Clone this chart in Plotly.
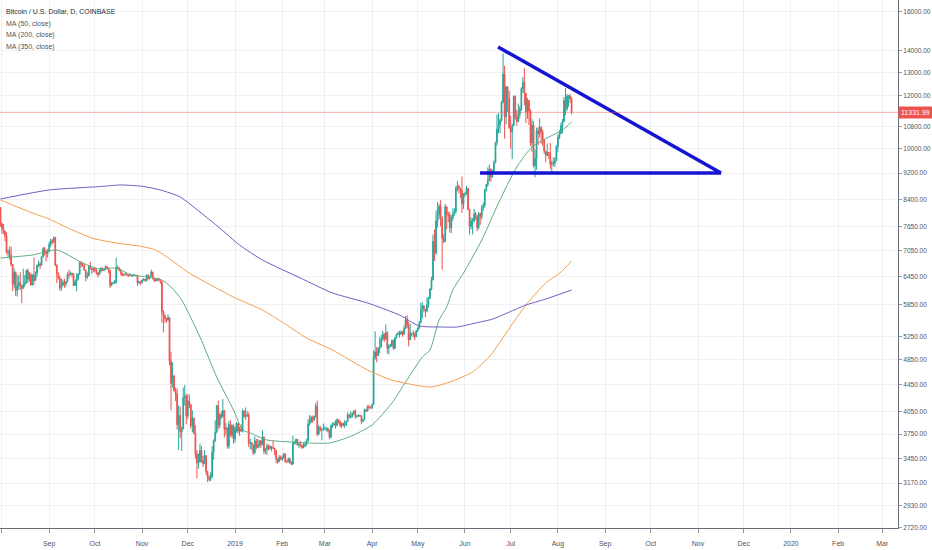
import numpy as np
import pandas as pd
import plotly.graph_objects as go

# Daily BTC/USD candles (Coinbase), 2018-07-29 .. 2019-08-10.
# open of each day = previous close
start_day = "2018-07-29"
first_open = 8220

close = [
    8210, 8170, 7730,
    # Aug 2018
    7605, 7535, 7415, 7010, 7030, 6935, 6720, 6280, 6540, 6145,
    6235, 6315, 6255, 6190, 6270, 6315, 6580, 6385, 6490, 6260,
    6475, 6360, 6525, 6690, 6735, 6700, 6905, 7090, 7030, 6980, 7025,
    # Sep
    7195, 7285, 7265, 7365, 6700, 6515, 6410, 6200, 6250, 6320,
    6285, 6330, 6490, 6485, 6520, 6500, 6250, 6335, 6385, 6495,
    6760, 6715, 6705, 6590, 6435, 6465, 6680, 6640, 6600, 6625,
    # Oct
    6590, 6530, 6485, 6565, 6635, 6585, 6610, 6665, 6640, 6590,
    6250, 6295, 6305, 6320, 6650, 6640, 6590, 6520, 6475, 6490,
    6495, 6475, 6465, 6475, 6460, 6470, 6475, 6470, 6305, 6325, 6310,
    # Nov
    6370, 6390, 6355, 6480, 6405, 6455, 6545, 6405, 6350, 6380,
    6400, 6370, 6330, 5710, 5640, 5580, 5545, 5600, 4820, 4465,
    4580, 4355, 4310, 3875, 4000, 3780, 3820, 4250, 4275, 3990,
    # Dec
    4200, 4150, 3860, 3960, 3760, 3500, 3395, 3410, 3545, 3425,
    3390, 3485, 3300, 3230, 3210, 3235, 3525, 3670, 3775, 4135,
    3870, 4015, 3980, 4070, 3815, 3830, 3600, 3880, 3735, 3860, 3690,
    # Jan 2019
    3825, 3890, 3790, 3820, 3790, 4060, 3985, 3995, 4010, 3635,
    3640, 3610, 3515, 3665, 3580, 3615, 3665, 3615, 3715, 3535,
    3565, 3600, 3570, 3590, 3575, 3575, 3545, 3445, 3410, 3465, 3440,
    # Feb
    3460, 3505, 3415, 3410, 3445, 3400, 3385, 3640, 3640, 3685,
    3615, 3620, 3605, 3580, 3595, 3620, 3665, 3885, 3910, 3975,
    3935, 3985, 4130, 3750, 3840, 3810, 3815, 3815,
    # Mar
    3825, 3825, 3795, 3715, 3865, 3875, 3885, 3860, 3940, 3920,
    3865, 3890, 3865, 3870, 3915, 4010, 3980, 3985, 4025, 4060,
    3985, 3990, 4000, 3995, 3915, 3945, 4080, 4060, 4125, 4115, 4105,
    # Apr
    4150, 4880, 4975, 4910, 5030, 5060, 5200, 5295, 5195, 5320,
    5040, 5080, 5080, 5175, 5035, 5225, 5280, 5300, 5290, 5325,
    5290, 5390, 5555, 5445, 5185, 5300, 5290, 5295, 5240, 5350,
    # May
    5400, 5505, 5760, 5830, 5760, 5720, 5845, 5985, 6175, 6370,
    7270, 6990, 7810, 7975, 8200, 7875, 7350, 7265, 8195, 7985,
    7960, 7620, 7880, 7995, 8060, 8740, 8800, 8730, 8660, 8270, 8550,
    # Jun
    8555, 8730, 8120, 7660, 7800, 7800, 8000, 7930, 7630, 8000,
    7920, 8170, 8235, 8690, 8840, 8980, 9330, 9080, 9270, 9525,
    10210, 10700, 10855, 11020, 11740, 12930, 11160, 12375, 11880, 10760,
    # Jul
    10590, 10820, 11980, 11150, 10980, 11255, 11470, 12290, 12570, 12100,
    11350, 11800, 11380, 10200, 10850, 9430, 9680, 10640, 10530, 10760,
    10590, 10330, 9920, 9770, 9880, 9850, 9480, 9530, 9510, 9595, 10085,
    # Aug
    10400, 10525, 10820, 10980, 11805, 11470, 11980, 11990, 11860, 11331.99,
]

high = [
    8290, 8270, 8180,
    7760, 7720, 7540, 7500, 7080, 7150, 7150, 6730, 6630, 6560,
    6490, 6470, 6540, 6265, 6620, 6480, 6600, 6630, 6550, 6530,
    6500, 6880, 6560, 6720, 6810, 6770, 6920, 7130, 7140, 7060, 7090,
    7260, 7340, 7330, 7400, 7390, 6720, 6540, 6470, 6400, 6380,
    6400, 6350, 6540, 6600, 6560, 6530, 6520, 6380, 6520, 6520,
    6790, 6800, 6760, 6720, 6590, 6540, 6700, 6780, 6640, 6640,
    6660, 6620, 6540, 6610, 6660, 6640, 6630, 6700, 6680, 6640,
    6590, 6330, 6340, 6370, 6880, 6700, 6650, 6610, 6530, 6510,
    6540, 6510, 6490, 6520, 6490, 6500, 6490, 6490, 6480, 6350, 6350,
    6380, 6410, 6395, 6500, 6485, 6460, 6600, 6550, 6420, 6400,
    6410, 6420, 6370, 6340, 5740, 5650, 5590, 5660, 5610, 4980,
    4800, 4600, 4400, 4390, 4140, 4125, 3850, 4400, 4440, 4310,
    4300, 4300, 4160, 4070, 3970, 3870, 3550, 3510, 3630, 3600,
    3480, 3550, 3490, 3305, 3260, 3290, 3600, 3685, 3930, 4145,
    4210, 4025, 4060, 4230, 4070, 3900, 3840, 3920, 3935, 3880, 3880,
    3850, 3910, 3890, 3850, 3880, 4090, 4070, 4110, 4060, 4040,
    3690, 3650, 3620, 3720, 3690, 3690, 3675, 3670, 3800, 3720,
    3570, 3630, 3620, 3615, 3600, 3670, 3580, 3545, 3445, 3490, 3485,
    3485, 3515, 3505, 3430, 3460, 3460, 3420, 3730, 3660, 3690,
    3690, 3650, 3660, 3620, 3640, 3660, 3690, 3950, 4005, 3995,
    4000, 3995, 4175, 4210, 3870, 3855, 3830, 3890,
    3860, 3840, 3840, 3810, 3875, 3905, 3910, 3935, 3960, 3940,
    3930, 3900, 3905, 3935, 3925, 4045, 4015, 4055, 4040, 4075,
    4085, 4005, 4015, 4010, 4000, 3955, 4095, 4085, 4140, 4150, 4120,
    4165, 5000, 5340, 5060, 5060, 5235, 5270, 5350, 5295, 5470,
    5340, 5110, 5120, 5190, 5190, 5235, 5300, 5340, 5350, 5360,
    5340, 5450, 5630, 5640, 5520, 5480, 5320, 5360, 5325, 5360,
    5420, 5530, 5890, 5900, 5830, 5770, 6000, 6010, 6190, 6440,
    7450, 7580, 8090, 8330, 8280, 8380, 7930, 7450, 8270, 8200,
    8050, 8050, 7960, 8150, 8150, 8790, 8950, 8820, 8730, 9090, 8590,
    8625, 8800, 8740, 8125, 7900, 7880, 8130, 8045, 7960, 8050,
    8030, 8240, 8310, 8710, 8870, 9380, 9470, 9340, 9310, 9610,
    10250, 11250, 11300, 11100, 11790, 13880, 13300, 12400, 12380, 12200,
    11200, 10900, 12000, 12000, 11420, 11680, 11590, 12350, 12800, 13200,
    12100, 11900, 11830, 11450, 11070, 11000, 9975, 10750, 10770, 11100,
    10800, 10680, 10330, 9930, 10180, 9880, 10200, 9600, 9700, 9720, 10120,
    10500, 10670, 10930, 11080, 11950, 12320, 12070, 12030, 12080, 11950,
]

low = [
    8110, 7860, 7650,
    7460, 7470, 7280, 6960, 6880, 6830, 6680, 6130, 6200, 6030,
    6020, 6160, 6150, 5880, 6180, 6220, 6290, 6300, 6330, 6250,
    6255, 6260, 6350, 6440, 6660, 6610, 6680, 6880, 6930, 6790, 6880,
    7010, 7130, 7200, 7230, 6680, 6300, 6380, 6140, 6140, 6240,
    6200, 6220, 6320, 6400, 6470, 6420, 6240, 6240, 6130, 6360,
    6490, 6650, 6660, 6580, 6340, 6390, 6450, 6600, 6500, 6540,
    6540, 6490, 6420, 6480, 6530, 6570, 6560, 6590, 6610, 6520,
    6200, 6240, 6280, 6290, 6290, 6600, 6560, 6470, 6450, 6460,
    6480, 6450, 6440, 6460, 6440, 6440, 6455, 6450, 6240, 6290, 6260,
    6300, 6355, 6330, 6340, 6380, 6380, 6450, 6380, 6330, 6345,
    6340, 6350, 6290, 5500, 5320, 5500, 5500, 5545, 4750, 4070,
    4400, 4340, 4200, 3810, 3550, 3700, 3540, 3810, 4140, 3880,
    3950, 4100, 3820, 3775, 3750, 3450, 3220, 3330, 3400, 3400,
    3350, 3380, 3260, 3180, 3190, 3190, 3230, 3435, 3650, 3760,
    3810, 3830, 3950, 3975, 3710, 3740, 3570, 3565, 3720, 3700, 3630,
    3645, 3770, 3760, 3730, 3780, 3770, 3970, 3940, 3980, 3590,
    3560, 3550, 3490, 3510, 3560, 3585, 3585, 3575, 3610, 3500,
    3505, 3490, 3550, 3555, 3535, 3565, 3490, 3395, 3385, 3410, 3430,
    3420, 3445, 3400, 3395, 3405, 3385, 3370, 3375, 3620, 3615,
    3605, 3575, 3590, 3565, 3575, 3595, 3605, 3655, 3860, 3895,
    3900, 3925, 3965, 3720, 3745, 3785, 3670, 3790,
    3805, 3785, 3770, 3685, 3700, 3830, 3860, 3825, 3860, 3890,
    3840, 3830, 3850, 3830, 3860, 3915, 3960, 3955, 3970, 4005,
    3955, 3970, 3980, 3975, 3880, 3910, 3935, 4045, 4055, 4080, 4095,
    4085, 4145, 4840, 4800, 4910, 4955, 5060, 5170, 5150, 5190,
    4950, 4930, 5060, 5060, 5010, 5030, 5210, 5270, 5225, 5280,
    5240, 5270, 5385, 5400, 5070, 5180, 5250, 5230, 5180, 5235,
    5330, 5380, 5490, 5580, 5700, 5600, 5720, 5790, 5975, 6150,
    6365, 6800, 6940, 7630, 7850, 7660, 6600, 7230, 7270, 7580,
    7770, 7500, 7480, 7800, 7940, 8000, 8640, 8580, 8440, 8020, 8130,
    8470, 8540, 8090, 7450, 7580, 7450, 7765, 7830, 7530, 7580,
    7700, 7840, 8080, 8165, 8630, 8780, 8950, 8920, 9050, 9240,
    9520, 10100, 10550, 10550, 10980, 11680, 10350, 10870, 11350, 10710,
    10000, 9650, 10820, 11050, 10830, 10980, 11100, 11380, 12120, 11600,
    10920, 11080, 10850, 10100, 9900, 9380, 9070, 9300, 10120, 10400,
    10170, 10100, 9830, 9550, 9750, 9650, 9330, 9200, 9410, 9400, 9580,
    9880, 10340, 10520, 10550, 11000, 11220, 11380, 11550, 11700, 11250,
]

# moving averages
ma50_dates = ["2018-07-31", "2018-08-21", "2018-09-06", "2018-09-23", "2018-10-04",
              "2018-10-15", "2018-10-25", "2018-11-05", "2018-11-14", "2018-11-20",
              "2018-11-27", "2018-12-09", "2018-12-20", "2018-12-31", "2019-01-06",
              "2019-01-11", "2019-01-22", "2019-02-06", "2019-02-19", "2019-03-04",
              "2019-03-17", "2019-04-01", "2019-04-14", "2019-04-23", "2019-05-04",
              "2019-05-09", "2019-05-15", "2019-05-20", "2019-05-24", "2019-05-31",
              "2019-06-12", "2019-06-23", "2019-07-05", "2019-07-15", "2019-07-26",
              "2019-08-04", "2019-08-10"]
ma50_vals = [6870, 6941, 7062, 6753, 6614, 6637, 6480, 6436, 6370, 6219,
             5947, 5236, 4563, 4075, 3804, 3765, 3676, 3651, 3638, 3638,
             3714, 3870, 4173, 4486, 4889, 5007, 5551, 5804, 6155, 6524,
             7306, 8299, 9393, 10060, 10410, 10667, 10963]

ma200_dates = ["2018-07-31", "2018-08-21", "2018-09-01", "2018-09-12", "2018-09-29",
               "2018-10-15", "2018-10-30", "2018-11-10", "2018-11-20", "2018-12-02",
               "2018-12-31", "2019-01-19", "2019-02-01", "2019-02-17", "2019-03-06",
               "2019-03-29", "2019-04-14", "2019-05-09", "2019-05-22", "2019-06-06",
               "2019-06-18", "2019-06-28", "2019-07-11", "2019-07-24", "2019-08-03",
               "2019-08-10"]
ma200_vals = [8385, 8018, 7854, 7641, 7358, 7232, 7158, 7062, 6823, 6524,
              6007, 5745, 5513, 5218, 5007, 4675, 4516, 4410, 4486, 4643,
              4923, 5309, 5845, 6304, 6546, 6800]

ma350_dates = ["2018-07-31", "2018-09-01", "2018-10-04", "2018-10-18", "2018-11-01",
               "2018-11-13", "2018-11-26", "2018-12-09", "2018-12-22", "2019-01-04",
               "2019-01-19", "2019-02-13", "2019-03-06", "2019-03-29", "2019-04-19",
               "2019-05-02", "2019-05-16", "2019-05-27", "2019-06-08", "2019-06-19",
               "2019-06-30", "2019-07-11", "2019-07-24", "2019-08-10"]
ma350_vals = [8414, 8679, 8780, 8830, 8790, 8680, 8472, 8046, 7615, 7183,
              6823, 6413, 6092, 5886, 5647, 5439, 5420, 5420, 5495, 5568,
              5704, 5845, 5966, 6155]

# hand drawn triangle
tri_top_dates = ["2019-06-22 17:00", "2019-11-16 02:00"]
tri_top_vals = [14190, 9200]
tri_base_dates = ["2019-06-10 21:00", "2019-11-16 02:00"]
tri_base_vals = [9200, 9200]

last_price = 11331.99

price_ticks = [16000, 14000, 13000, 12000, 10800, 10000, 9200, 8400, 7650, 7050,
               6450, 5850, 5250, 4850, 4450, 4050, 3750, 3450, 3170, 2930, 2720]
month_labels = ["Aug", "Sep", "Oct", "Nov", "Dec", "2019", "Feb", "Mar", "Apr", "May",
                "Jun", "Jul", "Aug", "Sep", "Oct", "Nov", "Dec", "2020", "Feb", "Mar"]
month_ticks = pd.date_range("2018-08-01", periods=len(month_labels), freq="MS")

legend_lines = ["Bitcoin / U.S. Dollar, D, COINBASE", "MA (50, close)",
                "MA (200, close)", "MA (350, close)"]

assert len(close) == len(high) == len(low)
dates = pd.date_range(start_day, periods=len(close), freq="D")
opens = [first_open] + close[:-1]

FONT = "Liberation Sans, Arial, sans-serif"
UP = "#26a69a"
DOWN = "#ef5350"
GRID = "#eef0f5"

fig = go.Figure()

fig.add_trace(go.Candlestick(
    x=dates, open=opens, high=high, low=low, close=close,
    increasing=dict(line=dict(color=UP, width=1), fillcolor=UP),
    decreasing=dict(line=dict(color=DOWN, width=1), fillcolor=DOWN),
    whiskerwidth=0, hoverinfo="skip",
))

for d, v, c in [(ma50_dates, ma50_vals, "#5fae7e"),
                (ma200_dates, ma200_vals, "#f5a04a"),
                (ma350_dates, ma350_vals, "#6a5fc1")]:
    fig.add_trace(go.Scatter(x=d, y=v, mode="lines",
                             line=dict(color=c, width=1, shape="spline", smoothing=0.6)))

for d, v in [(tri_top_dates, tri_top_vals), (tri_base_dates, tri_base_vals)]:
    fig.add_trace(go.Scatter(x=d, y=v, mode="lines",
                             line=dict(color="#1414d2", width=3.5)))

# last price line + label
fig.add_shape(type="line", xref="paper", x0=0, x1=1, yref="y",
              y0=last_price, y1=last_price,
              line=dict(color="rgba(239,83,80,0.45)", width=1))
fig.add_annotation(xref="paper", x=1, xanchor="left", yref="y",
                   y=np.log10(last_price), text=f"{last_price:.2f}",
                   showarrow=False, bgcolor=DOWN, borderpad=2,
                   font=dict(family=FONT, size=7, color="white"))

for i, t in enumerate(legend_lines):
    fig.add_annotation(xref="paper", yref="paper", x=0.004, xanchor="left",
                       y=1 - (12 + 11.7 * i) / 528, yanchor="middle",
                       text=t, showarrow=False,
                       font=dict(family=FONT, size=7,
                                 color="#2a2e39" if i == 0 else "#50535e"))

fig.update_layout(
    width=932, height=550,
    margin=dict(l=0, r=34, t=0, b=22),
    paper_bgcolor="white", plot_bgcolor="white",
    showlegend=False,
    font=dict(family=FONT, size=7, color="#50535e"),
    xaxis=dict(
        type="date", range=["2018-07-30 17:00", "2020-03-11 07:00"],
        rangeslider=dict(visible=False),
        tickvals=month_ticks, ticktext=month_labels,
        showgrid=True, gridcolor=GRID, zeroline=False,
        ticks="outside", ticklen=4, tickcolor="#9598a1",
        ticklabelstandoff=5,
        showline=True, linecolor="#6a6d78", linewidth=1,
        automargin=False,
    ),
    yaxis=dict(
        type="log", side="right", range=[3.434, 4.222],
        tickvals=price_ticks, ticktext=[f"{p:.2f}" for p in price_ticks],
        tickfont=dict(size=6.5),
        showgrid=True, gridcolor=GRID, zeroline=False,
        ticks="outside", ticklen=3, tickcolor="#9598a1",
        showline=True, linecolor="#6a6d78", linewidth=1,
        automargin=False,
    ),
)

# page body has an 8px default margin; drop it so the figure fills the window
fig.write_html("out.html", config={"displayModeBar": False},
               post_script="document.body.style.margin='0';")
